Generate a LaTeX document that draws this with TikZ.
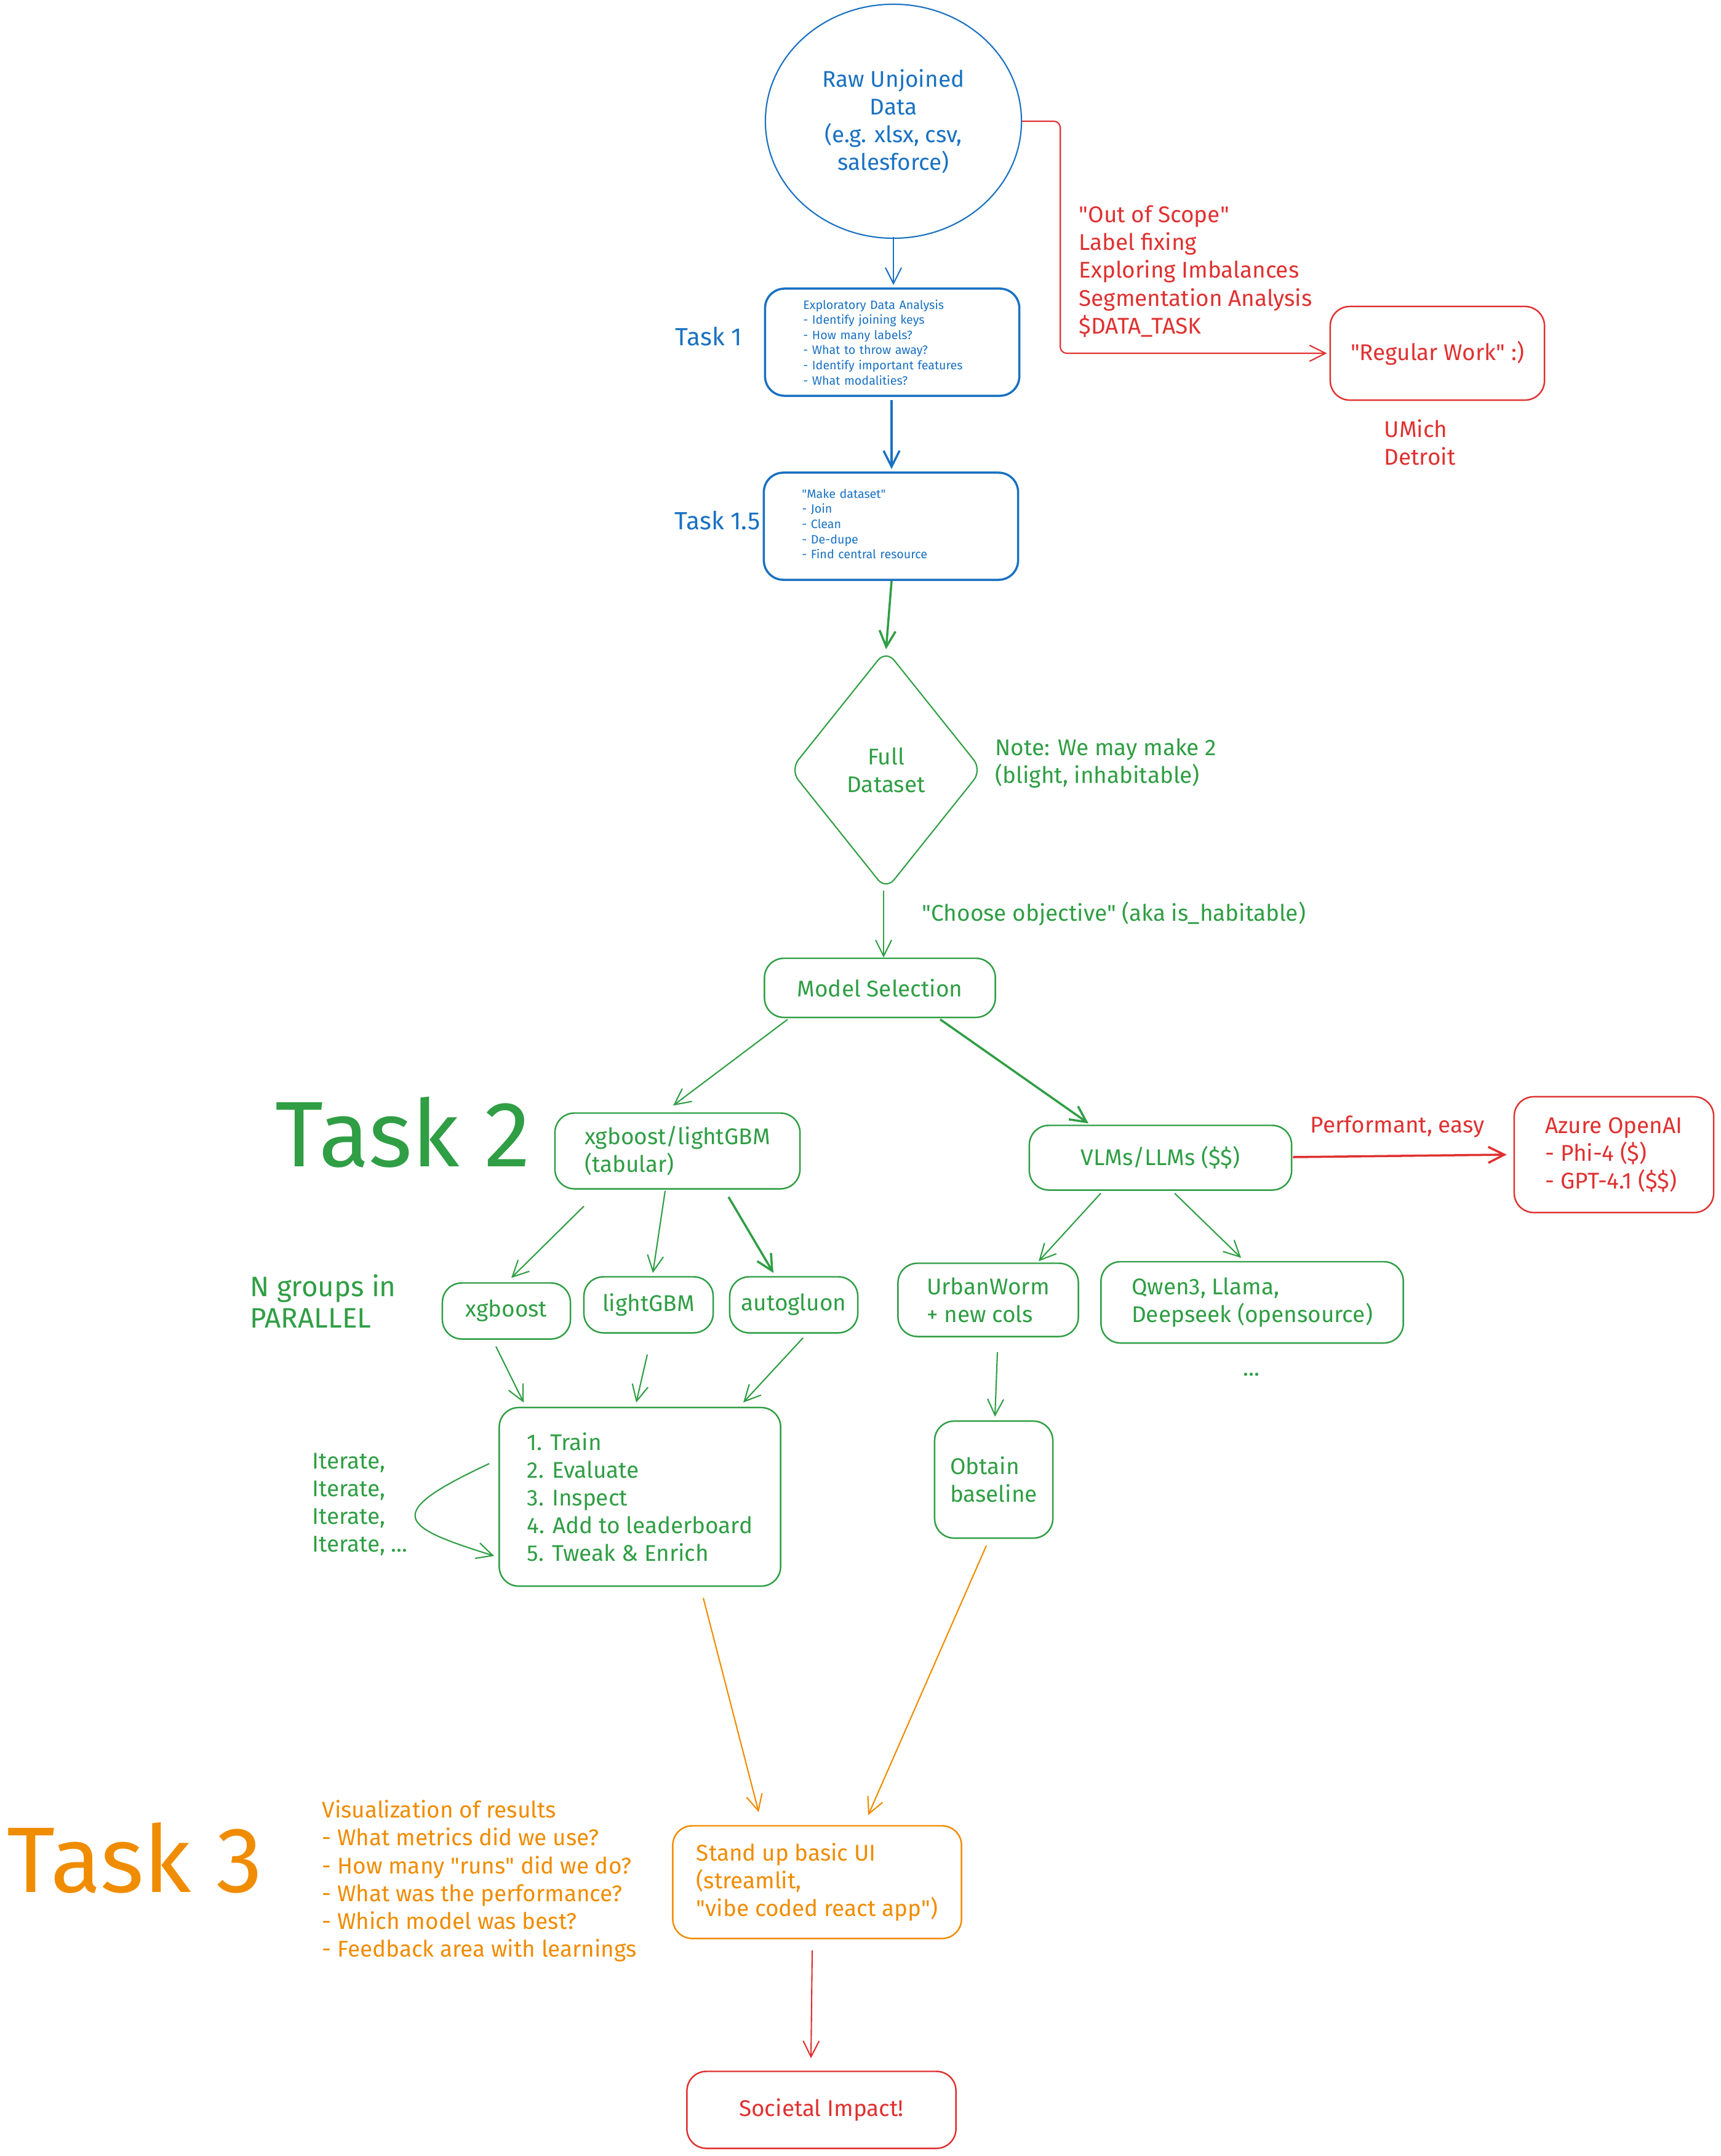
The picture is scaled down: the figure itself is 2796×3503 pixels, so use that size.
\documentclass[tikz,border=0pt]{standalone}
\usepackage{fontspec}
\setmainfont{Fira Sans}
\usetikzlibrary{arrows.meta,shapes.geometric,calc}
\definecolor{xblue}{HTML}{1971C2}
\definecolor{xgreen}{HTML}{2F9E44}
\definecolor{xred}{HTML}{E03131}
\definecolor{xorange}{HTML}{F08C00}
\newcommand{\dq}{\textquotedbl}
\tikzset {>={Straight Barb[length=2.6mm,width=2.6mm]}}
\tikzset{
  box/.style={draw=#1, text=#1, rounded corners=9pt, line width=.7pt,
    inner sep=0pt, align=center},
  note/.style={text=#1, inner sep=0pt, align=left, anchor=west},
  link/.style={draw=#1, line width=.6pt, ->},
  bigtask/.style={text=#1, inner sep=0pt, anchor=west,
    font=\fontsize{43}{45}\selectfont},
  tiny/.style={font=\fontsize{5.6}{7}\selectfont}
}

\begin{document}
\begin{tikzpicture}[x=0.01cm,y=-0.01cm,font=\fontsize{10.5}{12.8}\selectfont]
\path[use as bounding box, fill=white] (0,0) rectangle (2796,3503);

\node[ellipse, draw=xblue, text=xblue, line width=.6pt, minimum width=4.16cm,
  minimum height=3.8cm, inner sep=0pt, align=center] (raw) at (1452,197)
  {Raw Unjoined\\Data\\(e.g. xlsx, csv,\\salesforce)};
\node[box=xblue, line width=1pt, minimum width=4.13cm, minimum height=1.74cm,
  text width=2.89cm, align=left, tiny] (eda) at (1450,556)
  {Exploratory Data Analysis\\- Identify joining keys\\- How many labels?\\- What to throw away?\\- Identify important features\\- What modalities?};
\node[box=xblue, line width=1pt, minimum width=4.13cm, minimum height=1.74cm,
  text width=2.89cm, align=left, tiny] (make) at (1448,855)
  {\dq Make dataset\dq\\- Join\\- Clean\\- De-dupe\\- Find central resource\rule[-.08cm]{0pt}{0pt}};
\node[text=xblue, font=\fontsize{11.5}{13}\selectfont] (task1) at (1152,547) {Task 1};
\node[text=xblue, font=\fontsize{11.5}{13}\selectfont] (task15) at (1166,846) {Task 1.5};

\node[box=xred, minimum width=3.48cm, minimum height=1.52cm] (regular) at (2336,574) {\dq Regular Work\dq{} :)};
\node[note=xred] (scope) at (1753,441)
  {\dq Out of Scope\dq\\Label fixing\\Exploring Imbalances\\Segmentation Analysis\\\$DATA\_TASK};
\node[note=xred] (umich) at (2249,719) {UMich\\Detroit};

\node[diamond, draw=xgreen, text=xgreen, line width=.6pt, aspect=0.8,
  minimum width=3.12cm, minimum height=3.9cm, inner sep=0pt, align=center,
  rounded corners=6pt] (ds) at (1440,1251) {Full\\Dataset};
\node[note=xgreen] (remark) at (1617,1240) {Note: We may make 2\\(blight, inhabitable)};
\node[note=xgreen] (objective) at (1498,1485) {\dq Choose objective\dq{} (aka is\_habitable)};
\node[box=xgreen, minimum width=3.75cm, minimum height=.96cm] (model) at (1430,1605) {Model Selection};

\node[bigtask=xgreen] (task2) at (447,1840) {Task 2};
\node[box=xgreen, minimum width=3.98cm, minimum height=1.23cm, align=left] (tab) at (1101,1870)
  {xgboost/lightGBM\\(tabular)};
\node[box=xgreen, minimum width=4.26cm, minimum height=1.05cm] (vlm) at (1886,1881) {VLMs/LLMs (\$\$)};
\node[text=xred] (perf) at (2271,1831) {Performant, easy};
\node[box=xred, minimum width=3.24cm, minimum height=1.88cm, align=left] (azure) at (2623,1876)
  {Azure OpenAI\\- Phi-4 (\$)\\- GPT-4.1 (\$\$)};

\node[note=xgreen, font=\fontsize{13}{14.6}\selectfont] (groups) at (406,2114) {N groups in\\PARALLEL};
\node[box=xgreen, minimum width=2.08cm, minimum height=.91cm] (xgb) at (823,2130) {xgboost};
\node[box=xgreen, minimum width=2.10cm, minimum height=.91cm] (lgbm) at (1054,2120) {lightGBM};
\node[box=xgreen, minimum width=2.08cm, minimum height=.91cm] (aglu) at (1290,2120) {autogluon};
\node[box=xgreen, minimum width=2.93cm, minimum height=1.19cm, align=left] (urban) at (1606,2112)
  {UrbanWorm\\+ new cols};
\node[box=xgreen, minimum width=4.91cm, minimum height=1.32cm, align=left] (qwen) at (2035,2116)
  {Qwen3, Llama,\\Deepseek (opensource)};
\node[text=xgreen] (dots) at (2034,2233) {...};

\node[box=xgreen, minimum width=4.57cm, minimum height=2.90cm, align=left] (train) at (1040,2432)
  {1. Train\\2. Evaluate\\3. Inspect\\4. Add to leaderboard\\5. Tweak \& Enrich};
\node[note=xgreen] (iterate) at (507,2444) {Iterate,\\Iterate,\\Iterate,\\Iterate, ...};
\node[box=xgreen, minimum width=1.92cm, minimum height=1.90cm, align=left] (base) at (1615,2404)
  {Obtain\\baseline};

\node[bigtask=xorange] (task3) at (11,3019) {Task 3};
\node[note=xorange] (viz) at (523,3056)
  {Visualization of results\\- What metrics did we use?\\- How many \dq runs\dq{} did we do?\\- What was the performance?\\- Which model was best?\\- Feedback area with learnings};
\node[box=xorange, minimum width=4.69cm, minimum height=1.83cm, align=left] (ui) at (1328,3058)
  {Stand up basic UI\\(streamlit,\\\dq vibe coded react app\dq)};
\node[box=xred, minimum width=4.37cm, minimum height=1.25cm] (impact) at (1335,3428) {Societal Impact!};

\draw[link=xblue] ($(raw.south)+(0,-3)$) -- ($(eda.north)+(2,-4)$);
\draw[link=xblue, line width=1pt] ($(eda.south)+(-1,5)$) -- ($(make.north)+(1,-4)$);
\draw[link=xred, rounded corners=3pt] (raw.east) -- ++(62,0) |- ($(regular.west)+(-4,0)$);
\draw[link=xgreen, line width=1pt] ($(make.south)+(1,0)$) -- (ds.north);
\draw[link=xgreen] ($(ds.south)+(-4,0)$) -- ($(model.north)+(6,0)$);
\draw[link=xgreen] ($(model.south)+(-150,2)$) -- ($(tab.north)+(-7,-11)$);
\draw[link=xgreen, line width=1pt] ($(model.south)+(98,2)$) -- ($(vlm.north)+(-117,-2)$);
\draw[link=xred, line width=1pt] ($(vlm.east)+(1,-1)$) -- ($(azure.west)+(-11,0)$);
\draw[link=xgreen] ($(tab.south)+(-152,27)$) -- ($(xgb.north)+(8,-7)$);
\draw[link=xgreen] ($(tab.south)+(-20,2)$) -- ($(lgbm.north)+(7,-5)$);
\draw[link=xgreen, line width=1pt] ($(tab.south)+(83,12)$) -- ($(aglu.north)+(-33,-5)$);
\draw[link=xgreen] ($(vlm.south)+(-97,4)$) -- ($(urban.north)+(82,-2)$);
\draw[link=xgreen] ($(vlm.south)+(23,4)$) -- ($(qwen.north)+(-18,-5)$);
\draw[link=xgreen] ($(xgb.south)+(-17,11)$) -- ($(train.north)+(-189,-7)$);
\draw[link=xgreen] ($(lgbm.south)+(-2,34)$) -- ($(train.north)+(-6,-7)$);
\draw[link=xgreen] ($(aglu.south)+(15,7)$) -- ($(train.north)+(168,-7)$);
\draw[link=xgreen] ($(urban.south)+(15,24)$) -- ($(base.north)+(2,-6)$);
\draw[link=xgreen] ($(train.west)+(-15,-54)$) .. controls ($(train.west)+(-191,28)$)
  and ($(train.west)+(-161,48)$) .. ($(train.west)+(-7,96)$);
\draw[link=xorange] ($(train.south)+(103,18)$) -- ($(ui.north)+(-95,-21)$);
\draw[link=xorange] ($(base.south)+(-12,11)$) -- ($(ui.north)+(83,-16)$);
\draw[link=xred] ($(ui.south)+(-8,18)$) -- ($(impact.north)+(-17,-20)$);
\end{tikzpicture}
\end{document}
